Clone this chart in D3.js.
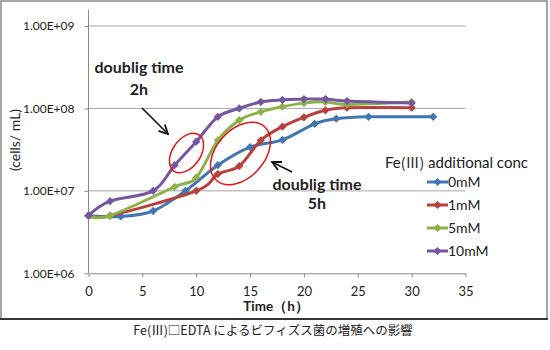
<!DOCTYPE html>
<html>
<head>
<meta charset="utf-8">
<script src="https://cdn.jsdelivr.net/npm/d3@7"></script>
<style>
  body { margin: 0; background: #fff; }
  text { font-family: Lato, "Noto Sans", sans-serif; fill: #222; }
</style>
</head>
<body>
<div id="chart"></div>
<script>
// series: time (h) and cell counts (cells/mL)
var series = ["0mM", "1mM", "5mM", "10mM"];
var colors = ["#4176B2", "#B8413D", "#8DB04A", "#7556A0"];

var times0 = [0, 3, 6, 9, 12, 15, 18, 21, 23, 26, 32];
var cells0 = [5.0e6, 4.9e6, 5.7e6, 1.0e7, 2.05e7, 3.4e7, 4.15e7, 6.5e7, 7.5e7, 7.9e7, 7.9e7];

var times1 = [0, 2, 10, 12, 14, 16, 18, 20, 22, 24, 30];
var cells1 = [5.0e6, 5.0e6, 1.0e7, 1.6e7, 2.0e7, 4.1e7, 6.0e7, 7.8e7, 9.5e7, 1.02e8, 1.02e8];

var times5 = [0, 2, 8, 10, 12, 14, 16, 18, 20, 22, 24, 30];
var cells5 = [5.0e6, 5.0e6, 1.12e7, 1.45e7, 4.1e7, 7.2e7, 9.1e7, 1.05e8, 1.16e8, 1.2e8, 1.12e8, 1.2e8];

var times10 = [0, 2, 6, 8, 10, 12, 14, 16, 18, 20, 22, 24, 30];
var cells10 = [5.0e6, 7.5e6, 1.0e7, 2.05e7, 3.95e7, 7.9e7, 1.0e8, 1.2e8, 1.27e8, 1.3e8, 1.3e8, 1.23e8, 1.16e8];

var xTicks = [0, 5, 10, 15, 20, 25, 30, 35];
var yTicks = [1e6, 1e7, 1e8, 1e9];

var legendTitle = ["Fe", "(Ⅲ)", " additional conc"];
var xTitle = "Time（h）";
var yTitle = "(cells/ mL)";
var caption = "Fe(Ⅲ)□EDTA によるビフィズス菌の増殖への影響";

var allTimes = [times0, times1, times5, times10];
var allCells = [cells0, cells1, cells5, cells10];

// svg size
var svgWidth = 550;
var svgHeight = 350;

var svg = d3.select("#chart")
  .append("svg")
    .attr("width", svgWidth)
    .attr("height", svgHeight);

// outer frame
svg.append("rect")
  .attr("x", 1).attr("y", 1)
  .attr("width", 546).attr("height", 318)
  .attr("fill", "none")
  .attr("stroke", "#8a8a8a")
  .attr("stroke-width", 1.5);
svg.append("line")
  .attr("x1", 0).attr("x2", 548)
  .attr("y1", 319).attr("y2", 319)
  .attr("stroke", "#111")
  .attr("stroke-width", 1.5);

// scales
var x = d3.scaleLinear().domain([0, 35]).range([88.5, 465.5]);
var y = d3.scaleLog().domain([1e6, 1e9]).range([273.3, 26]);

// gridlines
svg.append("g")
  .selectAll("line")
  .data(yTicks.slice(1))
  .enter()
  .append("line")
    .attr("x1", x(0)).attr("x2", x(35))
    .attr("y1", function (d) { return y(d); })
    .attr("y2", function (d) { return y(d); })
    .attr("stroke", "#a6a6a6")
    .attr("stroke-width", 1);

function fmtExp(v) {
  var e = Math.round(Math.log10(v));
  return "1.00E+" + (e < 10 ? "0" + e : e);
}

// y axis
var yAxis = svg.append("g")
  .attr("transform", "translate(" + x(0) + ",0)")
  .call(d3.axisLeft(y).tickValues(yTicks).tickFormat(fmtExp).tickSize(4).tickSizeOuter(0));
yAxis.select(".domain").remove();
yAxis.selectAll(".tick line").attr("stroke", "#8a8a8a");
yAxis.selectAll("text")
  .attr("x", -14)
  .style("font-size", "12px")
  .style("font-family", "Lato, sans-serif")
  .attr("fill", "#222");
svg.append("line")
  .attr("x1", x(0)).attr("x2", x(0))
  .attr("y1", 10).attr("y2", y(1e6))
  .attr("stroke", "#8a8a8a");

// x axis
var xAxis = svg.append("g")
  .attr("transform", "translate(0," + y(1e6) + ")")
  .call(d3.axisBottom(x).tickValues(xTicks).tickSize(4).tickSizeOuter(0));
xAxis.select(".domain").attr("stroke", "#8a8a8a");
xAxis.selectAll(".tick line").attr("stroke", "#8a8a8a");
xAxis.selectAll("text")
  .attr("y", 13)
  .style("font-size", "13px")
  .style("font-family", "Lato, sans-serif")
  .attr("fill", "#222");

// axis titles
svg.append("text")
  .attr("x", 276).attr("y", 311)
  .attr("text-anchor", "middle")
  .style("font-size", "13.5px")
  .style("font-weight", "bold")
  .text(xTitle);

svg.append("text")
  .attr("transform", "translate(20,140) rotate(-90)")
  .attr("text-anchor", "middle")
  .style("font-size", "14px")
  .text(yTitle);

// lines
var line = d3.line()
  .x(function (d) { return x(d[0]); })
  .y(function (d) { return y(d[1]); })
  .curve(d3.curveCardinal.tension(0));

var diamond = d3.symbol().type(d3.symbolSquare).size(34);

series.forEach(function (name, i) {
  var pts = d3.zip(allTimes[i], allCells[i]);
  var g = svg.append("g");
  g.append("path")
    .datum(pts)
    .attr("d", line)
    .attr("fill", "none")
    .attr("stroke", colors[i])
    .attr("stroke-width", 3)
    .attr("stroke-linejoin", "round");
  g.selectAll("path.pt")
    .data(pts)
    .enter()
    .append("path")
      .attr("class", "pt")
      .attr("d", diamond)
      .attr("transform", function (d) {
        return "translate(" + x(d[0]) + "," + y(d[1]) + ") rotate(45)";
      })
      .attr("fill", colors[i]);
});

// legend
var lt = svg.append("text")
  .attr("x", 385).attr("y", 168)
  .style("font-size", "15px");
lt.append("tspan").text(legendTitle[0]);
lt.append("tspan").style("font-family", "'Noto Sans CJK JP', sans-serif").style("font-size", "14px").text(legendTitle[1]);
lt.append("tspan").text(legendTitle[2]);

var legend = svg.append("g")
  .selectAll("g")
  .data(series)
  .enter()
  .append("g")
    .attr("transform", function (d, i) { return "translate(427," + (182 + i * 23) + ")"; });
legend.append("line")
  .attr("x1", 0).attr("x2", 21)
  .attr("stroke", function (d, i) { return colors[i]; })
  .attr("stroke-width", 3);
legend.append("path")
  .attr("d", diamond)
  .attr("transform", "translate(10.5,0) rotate(45)")
  .attr("fill", function (d, i) { return colors[i]; });
legend.append("text")
  .attr("x", 21).attr("y", 5)
  .style("font-size", "14px")
  .text(function (d) { return d; });

// annotations
var notes = svg.append("g").style("font-weight", "bold").style("font-size", "16px");
notes.append("text").attr("x", 139).attr("y", 73).attr("text-anchor", "middle").text("doublig time");
notes.append("text").attr("x", 139).attr("y", 95).attr("text-anchor", "middle").text("2h");
notes.append("text").attr("x", 317).attr("y", 190).attr("text-anchor", "middle").text("doublig time");
notes.append("text").attr("x", 317).attr("y", 209).attr("text-anchor", "middle").text("5h");

svg.append("defs").append("marker")
  .attr("id", "arrow")
  .attr("viewBox", "0 0 10 10")
  .attr("refX", 9).attr("refY", 5)
  .attr("markerWidth", 7).attr("markerHeight", 7)
  .attr("orient", "auto")
  .append("path")
    .attr("d", "M1,1 L9,5 L1,9")
    .attr("fill", "none")
    .attr("stroke", "#111")
    .attr("stroke-width", 1.6);

svg.append("line")
  .attr("x1", 142).attr("y1", 108).attr("x2", 168).attr("y2", 134)
  .attr("stroke", "#111").attr("stroke-width", 1.6)
  .attr("marker-end", "url(#arrow)");
svg.append("line")
  .attr("x1", 292).attr("y1", 172).attr("x2", 272).attr("y2", 162)
  .attr("stroke", "#111").attr("stroke-width", 1.6)
  .attr("marker-end", "url(#arrow)");

// red circles
svg.append("ellipse")
  .attr("cx", 0).attr("cy", 0).attr("rx", 22).attr("ry", 14)
  .attr("transform", "translate(186.5,153) rotate(-55)")
  .attr("fill", "none").attr("stroke", "#e0161b").attr("stroke-width", 1.5);
svg.append("ellipse")
  .attr("cx", 0).attr("cy", 0).attr("rx", 36).attr("ry", 24)
  .attr("transform", "translate(240.5,153.5) rotate(-48)")
  .attr("fill", "none").attr("stroke", "#e0161b").attr("stroke-width", 1.5);

// caption
svg.append("text")
  .attr("x", 273).attr("y", 335)
  .attr("text-anchor", "middle")
  .style("font-size", "12.5px")
  .style("font-family", "'Noto Sans CJK JP', sans-serif")
  .text(caption);
</script>
</body>
</html>
